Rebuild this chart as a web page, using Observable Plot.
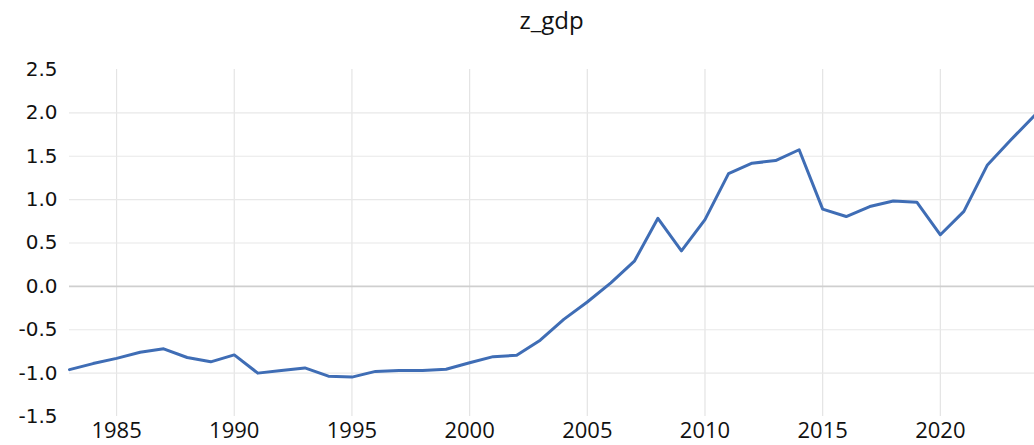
<!DOCTYPE html>
<html>
<head>
<meta charset="utf-8">
<script src="https://cdn.jsdelivr.net/npm/d3@7"></script>
<script src="https://cdn.jsdelivr.net/npm/@observablehq/plot@0.6"></script>
<style>
  body { margin: 0; background: #fff; font-family: "Open Sans", sans-serif; }
  #title { width: 1034px; height: 45px; box-sizing: border-box; padding-left: 69px; text-align: center; font-size: 24px; line-height: 40px; color: #111; }
</style>
</head>
<body>
<div id="title">z_gdp</div>
<div id="chart"></div>
<script>
const years = [1983,1984,1985,1986,1987,1988,1989,1990,1991,1992,1993,1994,1995,1996,1997,1998,1999,2000,2001,2002,2003,2004,2005,2006,2007,2008,2009,2010,2011,2012,2013,2014,2015,2016,2017,2018,2019,2020,2021,2022,2023,2024];
const zgdp = [-0.96,-0.89,-0.83,-0.76,-0.72,-0.82,-0.87,-0.79,-1.0,-0.97,-0.94,-1.035,-1.046,-0.98,-0.97,-0.97,-0.955,-0.88,-0.81,-0.795,-0.62,-0.38,-0.18,0.04,0.29,0.785,0.41,0.77,1.30,1.42,1.45,1.575,0.89,0.805,0.92,0.985,0.97,0.595,0.865,1.40,1.69,1.97];
const xTicks = [1985,1990,1995,2000,2005,2010,2015,2020];
const yTicks = [-1.5,-1.0,-0.5,0.0,0.5,1.0,1.5,2.0,2.5];
const yGrid = [-1.0,-0.5,0.5,1.0,1.5,2.0];

const data = years.map((y, i) => ({year: y, value: zgdp[i]}));

const chart = Plot.plot({
  width: 1034,
  height: 400,
  marginLeft: 69,
  marginRight: 0,
  marginTop: 24,
  marginBottom: 29,
  style: {fontFamily: "Open Sans, sans-serif", color: "#111", background: "#fff"},
  x: {domain: [1983, 2024], ticks: xTicks, tickFormat: d => String(d), tickSize: 0, tickPadding: 10, label: null},
  y: {domain: [-1.5, 2.5], ticks: yTicks, tickFormat: d => d.toFixed(1), tickSize: 0, tickPadding: 12, label: null},
  marks: [
    Plot.ruleX(xTicks, {stroke: "#e4e4e4", strokeWidth: 1.2}),
    Plot.ruleY(yGrid, {stroke: "#e8e8e8", strokeWidth: 1.2}),
    Plot.ruleY([0], {stroke: "#cfcfcf", strokeWidth: 1.6}),
    Plot.line(data, {x: "year", y: "value", stroke: "#3f6db5", strokeWidth: 3, strokeLinejoin: "round"}),
    Plot.axisY({ticks: yTicks, tickFormat: d => d.toFixed(1), tickSize: 0, tickPadding: 12, fontSize: 20, fontFamily: "DejaVu Sans, sans-serif", label: null}),
    Plot.axisX({ticks: xTicks, tickFormat: d => String(d), tickSize: 0, tickPadding: 6, fontSize: 22, label: null})
  ]
});
document.getElementById("chart").appendChild(chart);
</script>
</body>
</html>
